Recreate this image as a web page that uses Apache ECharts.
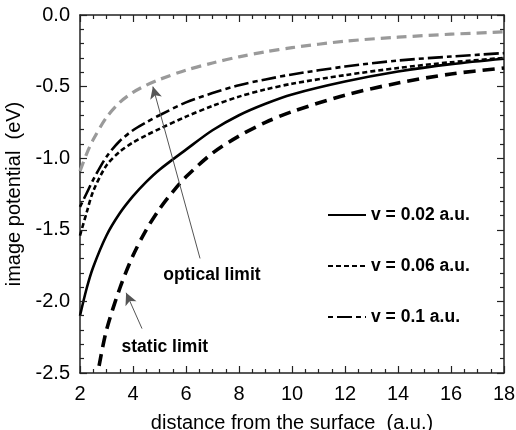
<!DOCTYPE html>
<html>
<head>
<meta charset="utf-8">
<script src="https://cdn.jsdelivr.net/npm/echarts@6/dist/echarts.min.js"></script>
<style>
  html, body { margin: 0; padding: 0; background: #fff; }
  #chart { width: 516px; height: 430px; }
</style>
</head>
<body>
<div id="chart"></div>
<script>
// Image potential (eV) versus distance from the surface (a.u.)
const distance = [2, 2.25, 2.5, 3, 3.5, 4, 4.5, 5, 6, 7, 8, 9, 10, 12, 14, 16, 18];
const v002 = [-2.10, -1.91, -1.76, -1.54, -1.385, -1.265, -1.165, -1.08, -0.94, -0.805, -0.70, -0.62, -0.555, -0.465, -0.395, -0.343, -0.305];
const v006 = [-1.54, -1.38, -1.23, -1.05, -0.955, -0.89, -0.84, -0.795, -0.71, -0.635, -0.57, -0.52, -0.48, -0.42, -0.37, -0.33, -0.30];
const v01  = [-1.34, -1.245, -1.15, -0.99, -0.88, -0.805, -0.75, -0.70, -0.61, -0.545, -0.49, -0.45, -0.415, -0.36, -0.318, -0.29, -0.266];
const opticalLimit = [-1.09, -0.97, -0.87, -0.715, -0.61, -0.54, -0.49, -0.45, -0.385, -0.335, -0.292, -0.257, -0.228, -0.183, -0.155, -0.134, -0.118];

const staticDistance = [2.72, 3, 3.5, 4, 4.5, 5, 5.5, 6, 7, 8, 9, 10, 12, 14, 16, 18];
const staticLimit = [-2.45, -2.2, -1.91, -1.68, -1.50, -1.355, -1.235, -1.13, -0.965, -0.845, -0.75, -0.675, -0.56, -0.475, -0.412, -0.37];

const legendNames = ['v = 0.02 a.u.', 'v = 0.06 a.u.', 'v = 0.1 a.u.'];

// axis ticks: labelled (major) values and minor steps
const xTicks = [2, 4, 6, 8, 10, 12, 14, 16, 18];
const xMinorStep = 0.5;
const yTicks = [-2.5, -2.0, -1.5, -1.0, -0.5, 0.0];
const yMinorStep = 0.1;

// annotation arrows: [tail, head] in data coordinates
const opticalArrow = [[6.53, -1.70], [4.75, -0.50]];
const staticArrow = [[4.34, -2.19], [3.74, -1.94]];
const opticalText = { name: 'optical limit', at: [6.98, -1.815] };
const staticText = { name: 'static limit', at: [5.2, -2.32] };

const pairs = (xs, ys) => xs.map((x, i) => [x, ys[i]]);

const FONT = '"Liberation Sans", Arial, Helvetica, sans-serif';
const INK = '#222';
const MAJOR_LEN = 7;   // px
const MINOR_LEN = 4;   // px
const WIDTH = 516, HEIGHT = 430;
const GRID = { left: 80, right: 12, top: 15, bottom: 57 };

const X_MIN = xTicks[0], X_MAX = xTicks[xTicks.length - 1];
const Y_MIN = yTicks[0], Y_MAX = yTicks[yTicks.length - 1];

// data units per pixel, so tick lengths stay fixed in pixels
const xPerPx = (X_MAX - X_MIN) / (WIDTH - GRID.left - GRID.right);
const yPerPx = (Y_MAX - Y_MIN) / (HEIGHT - GRID.top - GRID.bottom);

function tickValues(majors, step) {
  const out = [];
  const lo = majors[0], hi = majors[majors.length - 1];
  const n = Math.round((hi - lo) / step);
  for (let i = 0; i <= n; i++) {
    const v = +(lo + i * step).toFixed(4);
    out.push({ v: v, major: majors.some(m => Math.abs(m - v) < 1e-6) });
  }
  return out;
}

// inward ticks on all four sides of the frame, as segments in data space
const seg = (a, b) => [{ coord: a, symbol: 'none' }, { coord: b, symbol: 'none' }];
const frameTicks = [];
tickValues(xTicks, xMinorStep).forEach(t => {
  const d = (t.major ? MAJOR_LEN : MINOR_LEN) * yPerPx;
  frameTicks.push(seg([t.v, Y_MIN], [t.v, Y_MIN + d]));
  frameTicks.push(seg([t.v, Y_MAX], [t.v, Y_MAX - d]));
});
tickValues(yTicks, yMinorStep).forEach(t => {
  const d = (t.major ? MAJOR_LEN : MINOR_LEN) * xPerPx;
  frameTicks.push(seg([X_MIN, t.v], [X_MIN + d, t.v]));
  frameTicks.push(seg([X_MAX, t.v], [X_MAX - d, t.v]));
});

function frameSide(position, extra) {
  return Object.assign({
    type: 'value', position: position,
    axisLine: { show: true, onZero: false, lineStyle: { color: INK, width: 1.5 } },
    axisTick: { show: false },
    minorTick: { show: false },
    axisLabel: { show: false },
    splitLine: { show: false },
    minorSplitLine: { show: false }
  }, extra || {});
}

const chart = echarts.init(document.getElementById('chart'), null, { renderer: 'canvas' });

const lineCommon = { type: 'line', smooth: 0.3, symbol: 'none' };

chart.setOption({
  animation: false,
  backgroundColor: '#fff',
  grid: Object.assign({ outerBoundsMode: 'none' }, GRID),
  legend: {
    data: legendNames,
    orient: 'vertical',
    left: 322,
    top: 201,
    itemWidth: 38,
    itemHeight: 14,
    itemGap: 33,
    itemStyle: { opacity: 0 },
    textStyle: { fontFamily: FONT, fontSize: 17.5, fontWeight: 'bold', color: '#000' },
    selectedMode: false
  },
  xAxis: [
    frameSide('bottom', {
      min: X_MIN, max: X_MAX, interval: 2,
      axisLabel: { show: true, fontFamily: FONT, fontSize: 20, color: '#000', margin: 11 },
      name: 'distance from the surface  (a.u.)',
      nameLocation: 'middle', nameGap: 40,
      nameTextStyle: { fontFamily: FONT, fontSize: 20, color: '#000' }
    }),
    frameSide('top', { min: X_MIN, max: X_MAX, interval: 2 })
  ],
  yAxis: [
    frameSide('left', {
      min: Y_MIN, max: Y_MAX, interval: 0.5,
      axisLabel: { show: true, fontFamily: FONT, fontSize: 20, color: '#000', margin: 10,
                   formatter: v => v.toFixed(1) },
      name: 'image potential  (eV)',
      nameLocation: 'middle', nameGap: 48,
      nameTextStyle: { fontFamily: FONT, fontSize: 20, color: '#000' }
    }),
    frameSide('right', { min: Y_MIN, max: Y_MAX, interval: 0.5 })
  ],
  series: [
    Object.assign({}, lineCommon, {
      name: 'optical',
      data: pairs(distance, opticalLimit),
      lineStyle: { color: '#9a9a9a', width: 3.2, type: [10, 6] },
      markLine: {
        silent: true,
        symbol: ['none', 'arrow'],
        symbolSize: [9, 12],
        label: { show: false },
        lineStyle: { color: '#555', width: 1, type: 'solid' },
        itemStyle: { color: '#111' },
        data: [
          [{ coord: opticalArrow[0] }, { coord: opticalArrow[1] }],
          [{ coord: staticArrow[0] }, { coord: staticArrow[1] }]
        ]
      },
      markPoint: {
        silent: true,
        symbol: 'circle',
        symbolSize: 0,
        label: {
          show: true, position: 'inside', formatter: '{b}',
          fontFamily: FONT, fontSize: 17.5, fontWeight: 'bold', color: '#000'
        },
        data: [
          { name: opticalText.name, coord: opticalText.at },
          { name: staticText.name, coord: staticText.at }
        ]
      }
    }),
    Object.assign({}, lineCommon, {
      name: 'static',
      data: pairs(staticDistance, staticLimit),
      lineStyle: { color: '#000', width: 3.6, type: [12, 7] },
      markLine: {
        silent: true,
        symbol: ['none', 'none'],
        label: { show: false },
        emphasis: { disabled: true },
        lineStyle: { color: INK, width: 1.2, type: 'solid' },
        data: frameTicks
      }
    }),
    Object.assign({}, lineCommon, {
      name: legendNames[0],
      data: pairs(distance, v002),
      itemStyle: { color: '#000' },
      lineStyle: { color: '#000', width: 2.6, type: 'solid' }
    }),
    Object.assign({}, lineCommon, {
      name: legendNames[1],
      data: pairs(distance, v006),
      itemStyle: { color: '#000' },
      lineStyle: { color: '#000', width: 2.6, type: [5, 3] }
    }),
    Object.assign({}, lineCommon, {
      name: legendNames[2],
      data: pairs(distance, v01),
      itemStyle: { color: '#000' },
      lineStyle: { color: '#000', width: 2.6, type: [5, 4, 15, 4] }
    })
  ]
});
</script>
</body>
</html>
